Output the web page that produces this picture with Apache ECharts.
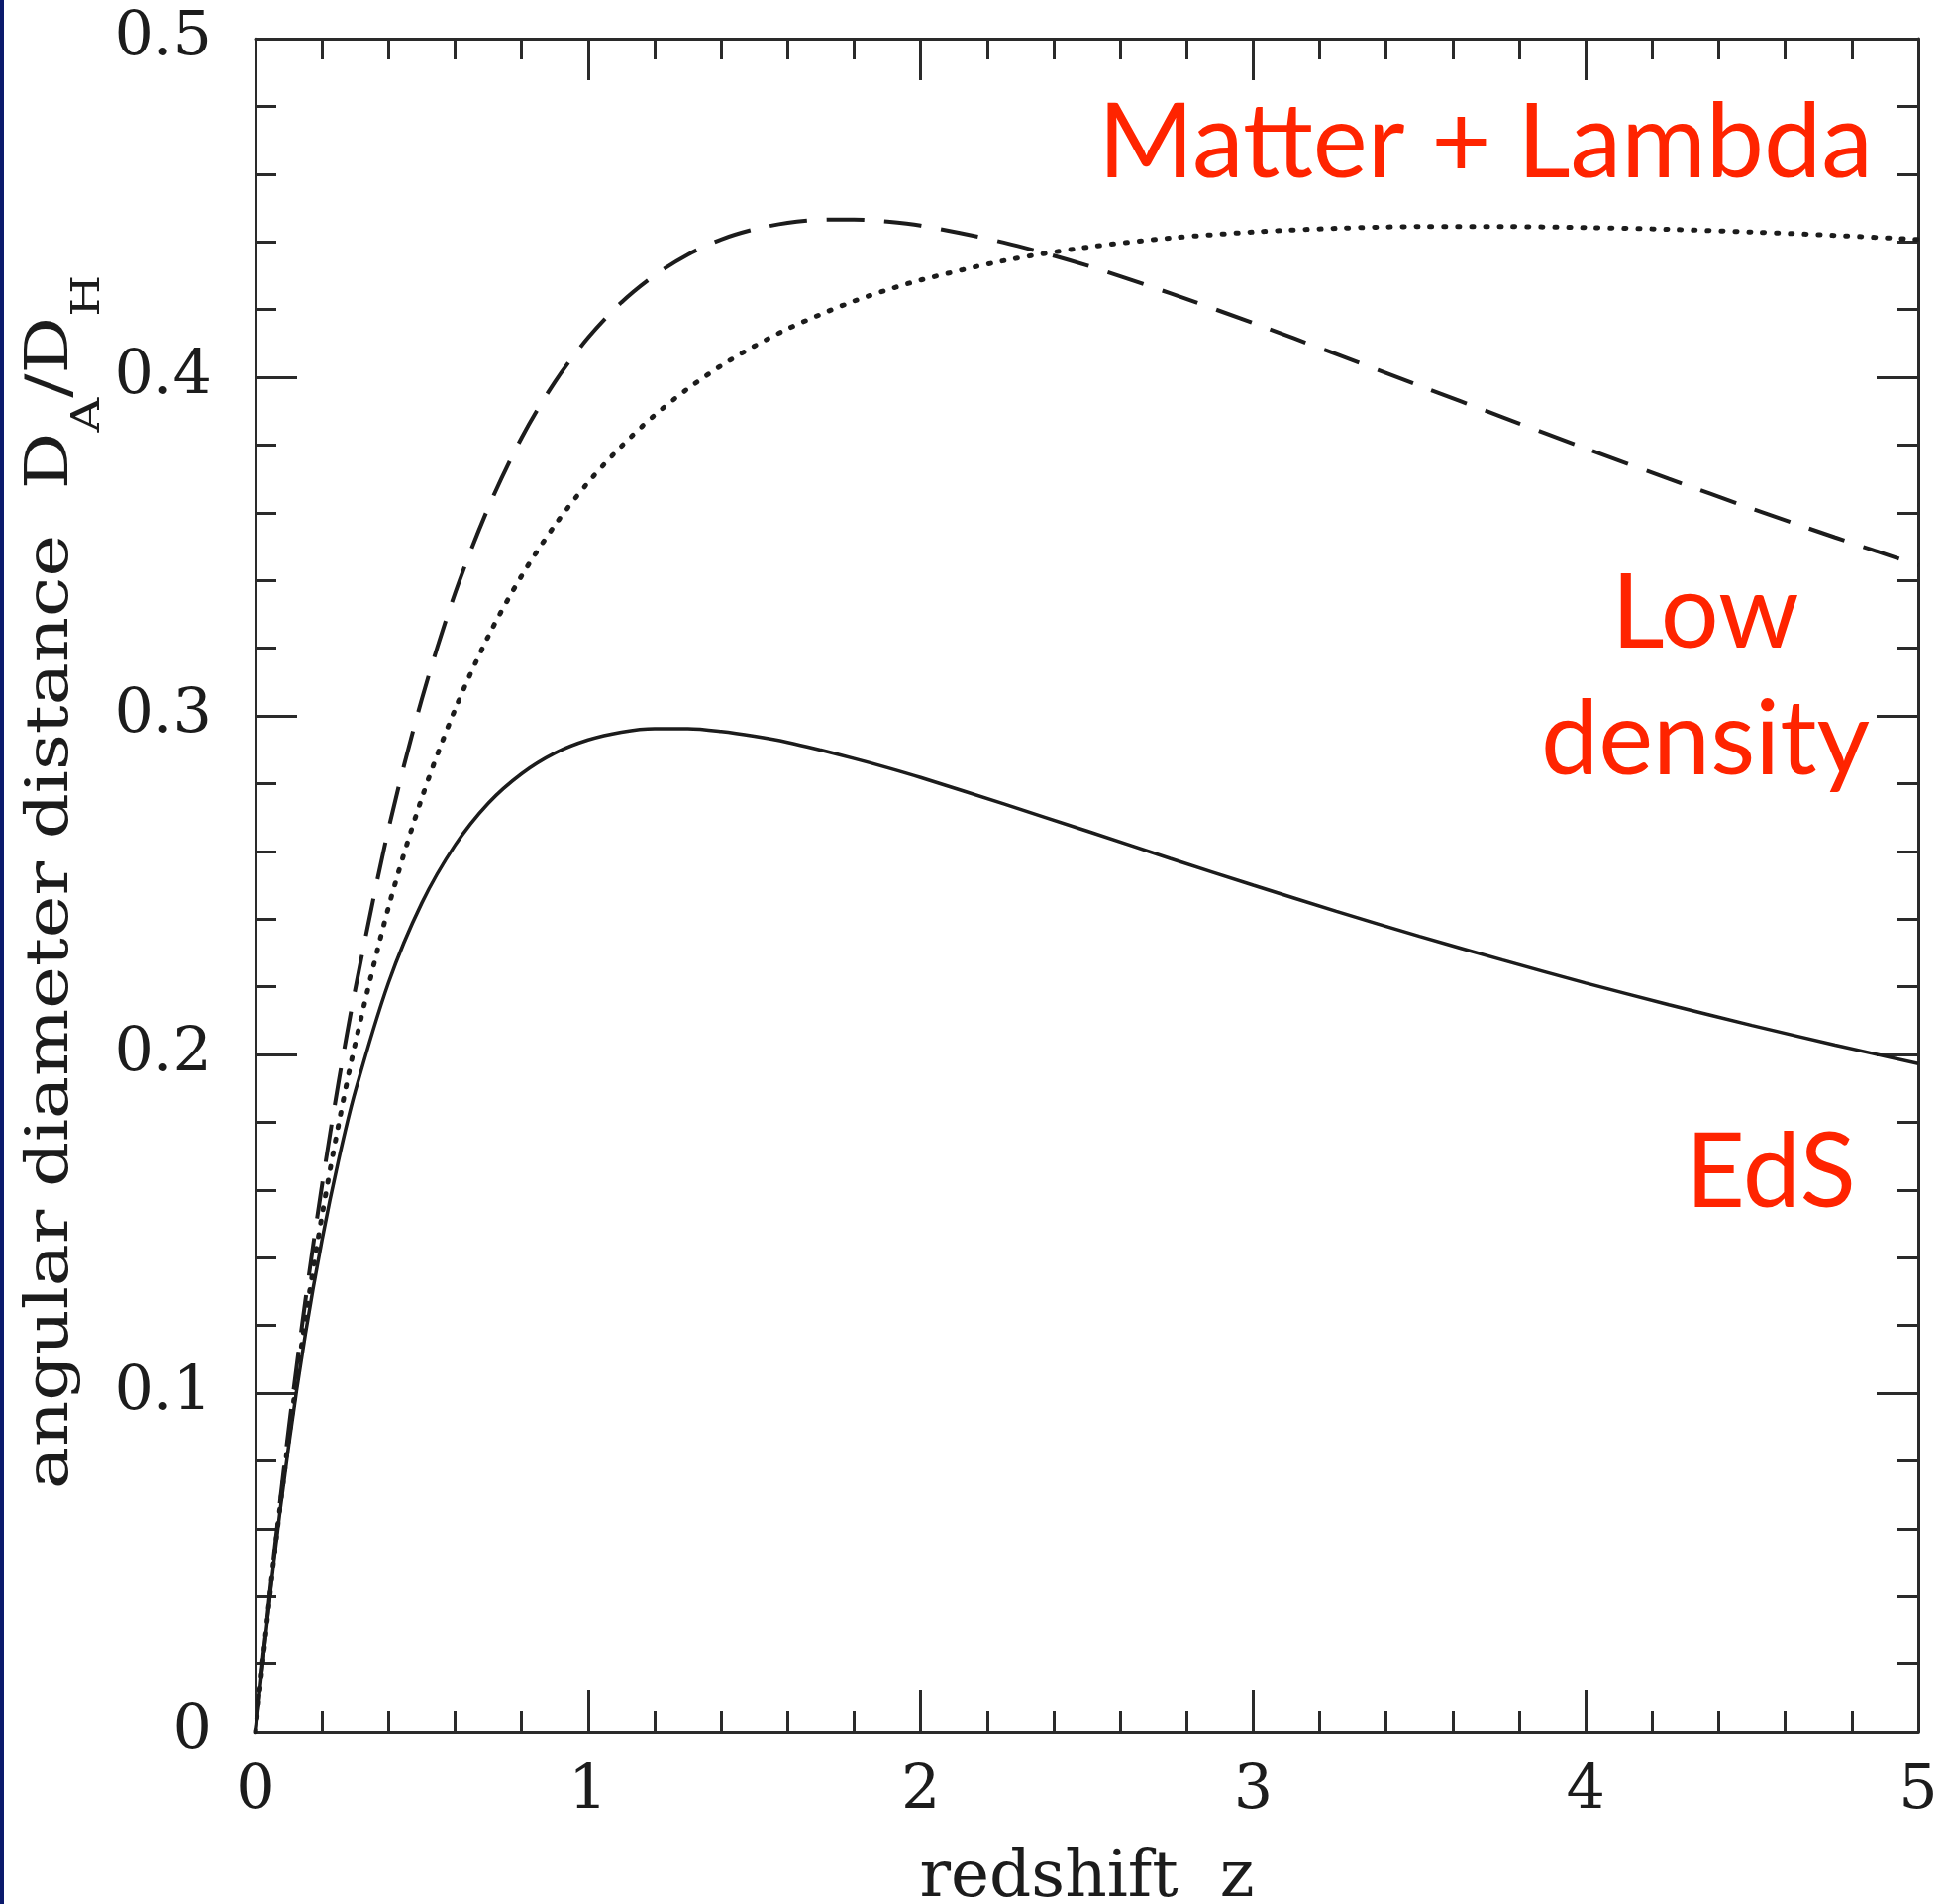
<!doctype html>
<html>
<head>
<meta charset="utf-8" />
<title>angular diameter distance</title>
<script src="https://cdn.jsdelivr.net/npm/echarts@6/dist/echarts.min.js"></script>
<style>
	html, body { margin: 0; padding: 0; background: #fff; }
	#main { width: 1967px; height: 1923px; }
</style>
</head>
<body>
<div id="main"></div>
<script>
	// redshift z (x values)
	var redshift = [0, 0.05, 0.1, 0.15, 0.2, 0.25, 0.3, 0.4, 0.5, 0.6, 0.7, 0.8, 0.9, 1.0,
		1.1, 1.2, 1.3, 1.4, 1.5, 1.6, 1.7, 1.8, 1.9, 2.0, 2.25, 2.5, 2.75, 3.0,
		3.25, 3.5, 3.75, 4.0, 4.25, 4.5, 4.75, 5.0];

	// D_A / D_H
	var eds = [0, 0.0459, 0.0846, 0.1174, 0.1452, 0.1689, 0.1891, 0.2212, 0.2447, 0.2618, 0.2742, 0.2829, 0.2890, 0.2929,
		0.2952, 0.2962, 0.2962, 0.2954, 0.2940, 0.2922, 0.2899, 0.2874, 0.2847, 0.2818, 0.2740, 0.2660, 0.2579, 0.2500,
		0.2423, 0.2349, 0.2279, 0.2211, 0.2147, 0.2086, 0.2028, 0.1973];
	var matterLambda = [0, 0.0473, 0.0895, 0.1273, 0.1613, 0.1919, 0.2193, 0.2666, 0.3049, 0.3362, 0.3615, 0.3821, 0.3986, 0.4117,
		0.4221, 0.4301, 0.4362, 0.4407, 0.4437, 0.4456, 0.4465, 0.4466, 0.4460, 0.4448, 0.4398, 0.4330, 0.4248, 0.4160,
		0.4068, 0.3975, 0.3882, 0.3790, 0.3700, 0.3612, 0.3527, 0.3445];
	var lowDensity = [0, 0.0465, 0.0867, 0.1217, 0.1524, 0.1794, 0.2033, 0.2435, 0.2757, 0.3019, 0.3235, 0.3413, 0.3563, 0.3689,
		0.3796, 0.3888, 0.3966, 0.4034, 0.4092, 0.4143, 0.4186, 0.4225, 0.4258, 0.4287, 0.4344, 0.4384, 0.4411, 0.4429,
		0.4440, 0.4445, 0.4445, 0.4442, 0.4437, 0.4429, 0.4419, 0.4407];

	var xName = 'redshift  z';
	var labels = ['Matter + Lambda', 'Low', 'density', 'EdS'];

	function pairs(ys) {
		return redshift.map(function (z, i) { return [z, ys[i]]; });
	}

	var ink = '#1c1c1c';
	var red = '#ff2400';
	var serif = 'DejaVu Serif';

	function axis(pos, isX, showLabel) {
		return {
			type: 'value',
			position: pos,
			min: 0,
			max: isX ? 5 : 0.5,
			interval: isX ? 1 : 0.1,
			axisLine: { show: true, onZero: false, lineStyle: { color: '#2a2a2a', width: 3 } },
			axisTick: { show: true, inside: true, length: 42, lineStyle: { color: '#2a2a2a', width: 3 } },
			minorTick: { show: true, splitNumber: 5, length: 21, lineStyle: { color: '#2a2a2a', width: 3 } },
			splitLine: { show: false },
			axisLabel: {
				show: showLabel,
				margin: isX ? 30 : 44,
				fontFamily: serif,
				fontSize: 62,
				color: ink
			}
		};
	}

	var xBottom = axis('bottom', true, true);
	xBottom.name = xName;
	xBottom.nameLocation = 'middle';
	xBottom.nameGap = 116;
	xBottom.nameTextStyle = { fontFamily: serif, fontSize: 66, color: ink };

	var chart = echarts.init(document.getElementById('main'));
	chart.setOption({
		backgroundColor: '#fff',
		animation: false,
		grid: { left: 258, right: 30, top: 39, bottom: 174, containLabel: false, outerBoundsMode: 'none' },
		xAxis: [xBottom, axis('top', true, false)],
		yAxis: [axis('left', false, true), axis('right', false, false)],
		series: [
			{
				name: 'EdS', type: 'line', showSymbol: false, symbol: 'none', smooth: 0.3,
				data: pairs(eds),
				lineStyle: { color: ink, width: 3.5 }
			},
			{
				name: 'Matter + Lambda', type: 'line', showSymbol: false, symbol: 'none', smooth: 0.3,
				data: pairs(matterLambda),
				lineStyle: { color: ink, width: 4, type: [38, 20] }
			},
			{
				name: 'Low density', type: 'line', showSymbol: false, symbol: 'none', smooth: 0.3,
				data: pairs(lowDensity),
				lineStyle: { color: ink, width: 5, type: [2, 12], cap: 'round' }
			}
		],
		graphic: [
			{ type: 'rect', shape: { x: 0, y: 0, width: 4, height: 1923 }, style: { fill: '#0b1a6c' } },
			{
				type: 'text', x: 66, y: 891, rotation: Math.PI / 2, scaleX: 1.2,
				style: {
					text: '{m|angular diameter distance  D}{s|A}{m|/D}{s|H}',
					align: 'center', verticalAlign: 'middle', fill: ink,
					rich: {
						m: { fontFamily: serif, fontSize: 60, lineHeight: 72, verticalAlign: 'top', fill: ink },
						s: { fontFamily: serif, fontSize: 40, verticalAlign: 'top', padding: [48, 0, 0, 0], fill: ink }
					}
				}
			},
			{ type: 'text', x: 1500, y: 145, style: { text: labels[0], fontFamily: 'Lato', fontSize: 104, fill: red, align: 'center', verticalAlign: 'middle' } },
			{ type: 'text', x: 1722, y: 620, style: { text: labels[1], fontFamily: 'Lato', fontSize: 104, fill: red, align: 'center', verticalAlign: 'middle' } },
			{ type: 'text', x: 1722, y: 748, style: { text: labels[2], fontFamily: 'Lato', fontSize: 104, fill: red, align: 'center', verticalAlign: 'middle' } },
			{ type: 'text', x: 1788, y: 1185, style: { text: labels[3], fontFamily: 'Lato', fontSize: 104, fill: red, align: 'center', verticalAlign: 'middle' } }
		]
	});
</script>
</body>
</html>
